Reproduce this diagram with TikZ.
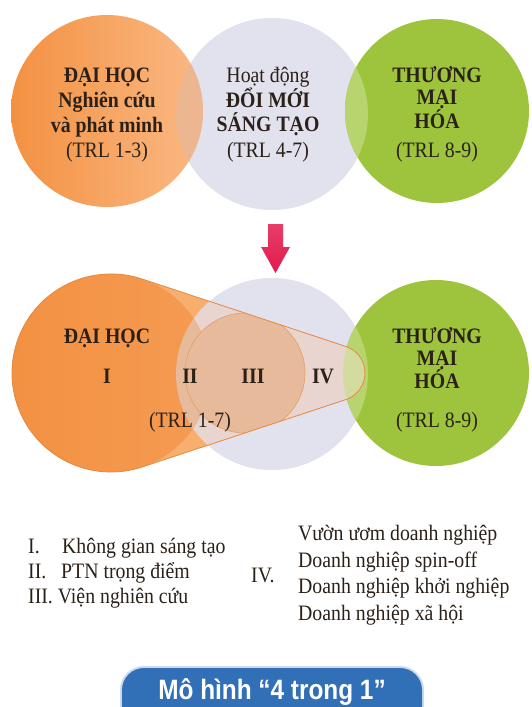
\documentclass[tikz,border=0pt]{standalone}
\usepackage{fontspec}
\setmainfont{Liberation Serif}[FakeStretch=0.9]
\newfontfamily\pillfont{Liberation Sans}[FakeStretch=0.87]
\definecolor{ink}{HTML}{2B2118}
\definecolor{lav}{HTML}{E2E1EE}
\definecolor{grn}{HTML}{9DC43C}
\definecolor{grnlens}{HTML}{B7D46F}
\definecolor{orL}{HTML}{F39142}
\definecolor{orR}{HTML}{FAB984}
\definecolor{orlens}{HTML}{ECB691}
\definecolor{conelt}{HTML}{F8AE6C}
\definecolor{coneiv}{HTML}{E9D5D0}
\definecolor{conegr}{HTML}{D4DB9E}
\definecolor{tan}{HTML}{E7BA9B}
\definecolor{coneedge}{HTML}{E38A44}
\definecolor{crim}{HTML}{E21B4C}
\definecolor{pill}{HTML}{3170B6}
\newcommand\conepath{(142.1,279.0) arc[start angle=-71.69, end angle=-288.31, radius=99] -- (345.8,399.6) arc[start angle=71.69, end angle=-71.69, radius=28] -- cycle}
\tikzset{
  txt/.style={anchor=base, text=ink, inner sep=0pt, font=\fontsize{22}{24}\selectfont},
  btxt/.style={txt, font=\fontsize{22}{24}\selectfont\bfseries},
  ltxt/.style={txt, anchor=base west},
}
\begin{document}
\begin{tikzpicture}[x=1pt,y=-1pt]
\clip (0,0) rectangle (531,707);
\fill[white] (0,0) rectangle (531,707);

% ---------- top row ----------
\fill[lav] (272,114) circle[radius=96];
\shade[left color=orL, right color=orR] (107,111) circle[radius=96];
\fill[grn] (437,111) circle[radius=92];
\begin{scope}
  \clip (107,111) circle[radius=96];
  \fill[orlens] (272,114) circle[radius=96];
\end{scope}
\begin{scope}
  \clip (437,111) circle[radius=92];
  \fill[grnlens] (272,114) circle[radius=96];
\end{scope}

\node[btxt] (a1) at (107,82) {ĐẠI HỌC};
\node[btxt] (a2) at (107,107) {Nghiên cứu};
\node[btxt] (a3) at (107,132) {và phát minh};
\node[txt]  (a4) at (107,157) {(TRL 1-3)};

\node[txt]  (b1) at (268,82) {Hoạt động};
\node[btxt] (b2) at (268,107) {ĐỔI MỚI};
\node[btxt] (b3) at (268,131) {SÁNG TẠO};
\node[txt]  (b4) at (268,157) {(TRL 4-7)};

\node[btxt] (c1) at (437,82) {THƯƠNG};
\node[btxt] (c2) at (437,104) {MẠI};
\node[btxt] (c3) at (437,128) {HÓA};
\node[txt]  (c4) at (437,157) {(TRL 8-9)};

% ---------- arrow ----------
\shade[top color=crim!85!white, bottom color=crim] (268,224) -- (283,224) -- (283,247) -- (290,247) -- (275.5,273) -- (261,247) -- (268,247) -- cycle;

% ---------- bottom row ----------
\fill[lav] (272,374) circle[radius=96];
\fill[grn] (436,373) circle[radius=93];
\begin{scope}
  \clip (436,373) circle[radius=93];
  \fill[grnlens] (272,374) circle[radius=96];
\end{scope}
\fill[conelt] \conepath;
\begin{scope}
  \clip \conepath;
  \fill[coneiv] (272,374) circle[radius=96];
  \fill[conegr] (436,373) circle[radius=93];
\end{scope}
\shade[left color=orL, right color=orL!75!orR] (111,373) circle[radius=99];
\begin{scope}
  \clip (272,374) circle[radius=96];
  \fill[tan] (111,373) circle[radius=99];
  \begin{scope}
    \clip \conepath;
    \fill[tan] (245,373) circle[radius=60];
  \end{scope}
\end{scope}
\begin{scope}
  \clip \conepath;
  \draw[coneedge!60!tan, line width=0.6pt] (245,373) circle[radius=60];
\end{scope}
\draw[coneedge, line width=0.8pt] \conepath;

\node[btxt] (d1) at (107,343) {ĐẠI HỌC};
\node[btxt] (d2) at (107,383) {I};
\node[btxt] (d3) at (190,383) {II};
\node[btxt] (d4) at (253,383) {III};
\node[btxt] (d5) at (323,383) {IV};
\node[txt]  (d6) at (190,427) {(TRL 1-7)};

\node[btxt] (e1) at (437,343) {THƯƠNG};
\node[btxt] (e2) at (437,365) {MẠI};
\node[btxt] (e3) at (437,388) {HÓA};
\node[txt]  (e4) at (437,427) {(TRL 8-9)};

% ---------- legend ----------
\node[ltxt] (f1) at (28,553) {I.};
\node[ltxt] (f2) at (62,553) {Không gian sáng tạo};
\node[ltxt] (f3) at (28,578) {II.};
\node[ltxt] (f4) at (61,578) {PTN trọng điểm};
\node[ltxt] (f5) at (28,603) {III. Viện nghiên cứu};

\node[ltxt] (g0) at (251,582) {IV.};
\node[ltxt] (g1) at (298,540) {Vườn ươm doanh nghiệp};
\node[ltxt] (g2) at (298,567) {Doanh nghiệp spin-off};
\node[ltxt] (g3) at (298,593) {Doanh nghiệp khởi nghiệp};
\node[ltxt] (g4) at (298,620) {Doanh nghiệp xã hội};

% ---------- title pill ----------
\fill[pill!25!white, rounded corners=24pt] (120,666) rectangle (424,740);
\fill[pill, rounded corners=22pt] (122,668) rectangle (422,738);
\node[anchor=base, text=white, inner sep=0pt, font=\pillfont\fontsize{28}{30}\selectfont\bfseries] (h1) at (272,699) {Mô hình “4 trong 1”};
\end{tikzpicture}
\end{document}
